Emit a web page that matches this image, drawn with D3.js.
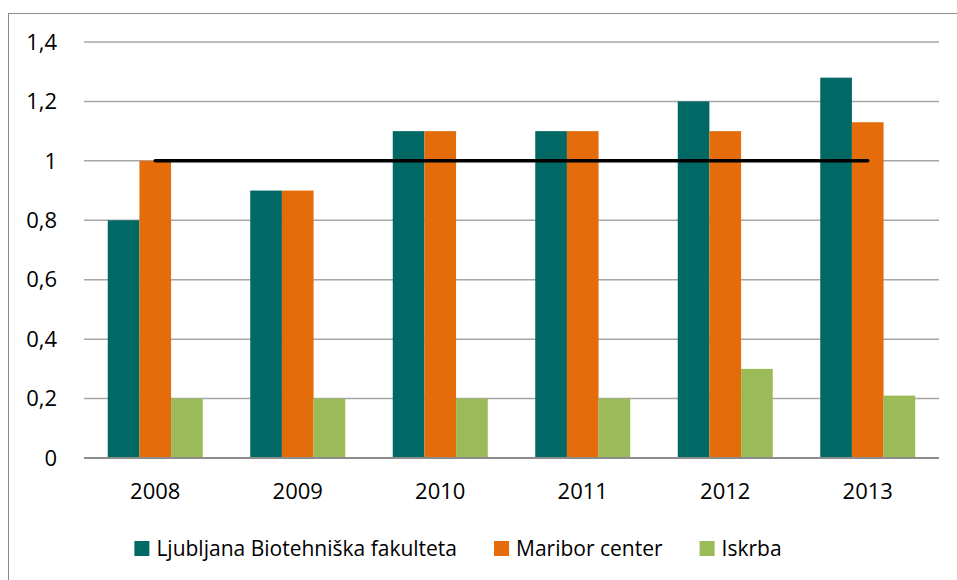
<!DOCTYPE html>
<html>
<head>
<meta charset="utf-8">
<script src="https://cdn.jsdelivr.net/npm/d3@7"></script>
<style>
  body { margin: 0; background: #fff; }
  svg { display: block; font-family: "Open Sans", sans-serif; }
</style>
</head>
<body>
<div id="chart"></div>
<script>
const years = ["2008", "2009", "2010", "2011", "2012", "2013"];
const seriesNames = ["Ljubljana Biotehniška fakulteta", "Maribor center", "Iskrba"];
const ljubljana = [0.8, 0.9, 1.1, 1.1, 1.2, 1.28];
const maribor = [1.0, 0.9, 1.1, 1.1, 1.1, 1.13];
const iskrba = [0.2, 0.2, 0.2, 0.2, 0.3, 0.21];
const reference = [1, 1, 1, 1, 1, 1];
const yTicks = [0, 0.2, 0.4, 0.6, 0.8, 1, 1.2, 1.4];

const colors = ["#006865", "#e46c0a", "#9bbb59"];
const width = 957, height = 580;
const margin = {top: 42, right: 18, bottom: 122, left: 84};

const svg = d3.select("#chart").append("svg")
    .attr("width", width)
    .attr("height", height);

// outer frame
svg.append("rect")
    .attr("x", 8.5).attr("y", 13.5)
    .attr("width", 960).attr("height", 600)
    .attr("fill", "none")
    .attr("stroke", "#8c8c8c")
    .attr("stroke-width", 1);

const x = d3.scaleBand()
    .domain(years)
    .range([margin.left, width - margin.right])
    .paddingInner(1 / 3)
    .paddingOuter(1 / 6);

const x1 = d3.scaleBand()
    .domain(d3.range(seriesNames.length))
    .range([0, x.bandwidth()]);

const y = d3.scaleLinear()
    .domain([0, 1.4])
    .range([height - margin.bottom, margin.top]);

const fmt = v => d3.format(".1~f")(v).replace(".", ",");

// gridlines
svg.append("g")
    .selectAll("line")
    .data(yTicks.filter(d => d > 0))
    .join("line")
    .attr("x1", margin.left)
    .attr("x2", width - margin.right)
    .attr("y1", d => y(d))
    .attr("y2", d => y(d))
    .attr("stroke", "#a6a6a6")
    .attr("stroke-width", 1.5);

// y labels
svg.append("g")
    .attr("font-size", 22)
    .attr("text-anchor", "end")
    .selectAll("text")
    .data(yTicks)
    .join("text")
    .attr("x", 57)
    .attr("y", d => y(d))
    .attr("dy", "0.35em")
    .attr("fill", "#000")
    .text(d => fmt(d));

// bars
const series = [ljubljana, maribor, iskrba];
const groups = svg.append("g")
    .selectAll("g")
    .data(years)
    .join("g")
    .attr("transform", d => `translate(${x(d)},0)`);

groups.selectAll("rect")
    .data((d, i) => series.map((s, k) => ({k, v: s[i]})))
    .join("rect")
    .attr("x", d => x1(d.k))
    .attr("width", x1.bandwidth())
    .attr("y", d => y(d.v))
    .attr("height", d => y(0) - y(d.v))
    .attr("fill", d => colors[d.k]);

// zero axis line
svg.append("line")
    .attr("x1", margin.left)
    .attr("x2", width - margin.right)
    .attr("y1", y(0))
    .attr("y2", y(0))
    .attr("stroke", "#8c8c8c")
    .attr("stroke-width", 2);

// reference line at 1
const line = d3.line()
    .x((d, i) => x(years[i]) + x.bandwidth() / 2)
    .y(d => y(d));

svg.append("path")
    .datum(reference)
    .attr("d", line)
    .attr("fill", "none")
    .attr("stroke", "#000")
    .attr("stroke-width", 3.5)
    .attr("stroke-linecap", "round");

// x labels
svg.append("g")
    .attr("font-size", 22)
    .attr("text-anchor", "middle")
    .selectAll("text")
    .data(years)
    .join("text")
    .attr("x", d => x(d) + x.bandwidth() / 2)
    .attr("y", 499)
    .attr("fill", "#000")
    .text(d => d);

// legend
const legend = svg.append("g").attr("font-size", 21);
const items = legend.selectAll("g")
    .data(seriesNames)
    .join("g");
items.append("rect")
    .attr("width", 15).attr("height", 15)
    .attr("y", 541)
    .attr("fill", (d, i) => colors[i]);
items.append("text")
    .attr("x", 22)
    .attr("y", 556)
    .attr("fill", "#000")
    .text(d => d);

const widths = items.nodes().map(n => n.querySelector("text").getComputedTextLength() + 22);
const gap = 37;
const total = d3.sum(widths) + gap * (widths.length - 1);
let cx = 458 - total / 2;
items.attr("transform", (d, i) => {
    const t = `translate(${cx},0)`;
    cx += widths[i] + gap;
    return t;
});
</script>
</body>
</html>
